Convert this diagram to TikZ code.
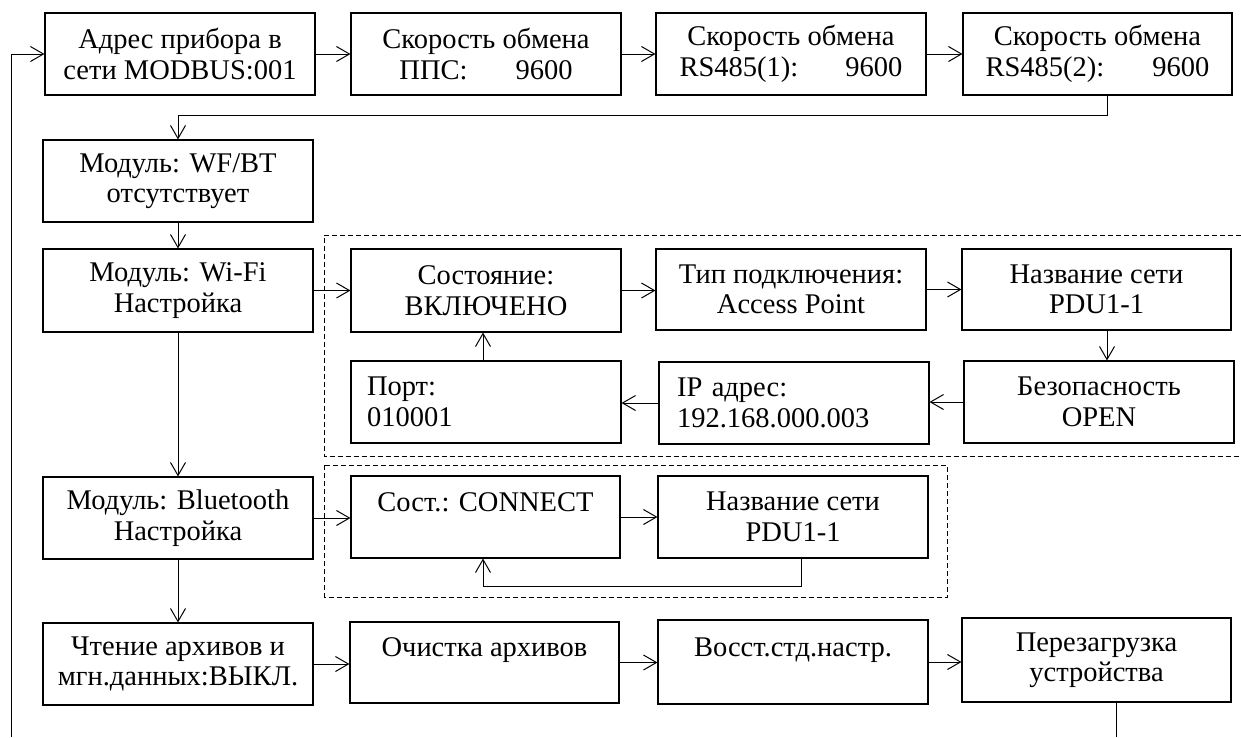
\documentclass[tikz,border=0pt]{standalone}
\usepackage{fontspec}
\setmainfont{Liberation Serif}
\usetikzlibrary{arrows.meta,calc}
\begin{document}
\begin{tikzpicture}[x=1pt,y=-1pt,
 box/.style={draw, line width=1.1pt, inner sep=0pt, align=center, font=\fontsize{28.5}{30.5}\selectfont, minimum width=270pt, minimum height=82pt},
 lbox/.style={box, align=left, text width=238pt},
 arr/.style={line width=1pt, -{Straight Barb[length=13pt,width=15pt]}},
 ln/.style={line width=1pt},
 grp/.style={line width=1pt, dash pattern=on 5pt off 3pt}]
\useasboundingbox (0,0) rectangle (1241,737);
% row 1
\node[box] (b1) at (180,54) {Адрес прибора в\\сети MODBUS:001};
\node[box] (b2) at (486,54) {Скорость обмена\\ППС:\hspace{48pt}9600};
\node[box] (b3) at (791,54) {Скорость обмена\\RS485(1):\hspace{47pt}9600};
\node[box, minimum width=269pt] (b4) at (1097.5,54) {Скорость обмена\\RS485(2):\hspace{48pt}9600};
% row 2
\node[box] (wf) at (178,181) {Модуль: WF/BT\\отсутствует};
% Wi-Fi
\node[box, minimum height=83pt] (wi) at (178,290.5) {Модуль: Wi-Fi\\Настройка};
\node[box, minimum height=83pt] (st) at (486,290.5) {Состояние:\\ВКЛЮЧЕНО};
\node[box, minimum height=81pt] (ty) at (791,289.5) {Тип подключения:\\Access Point};
\node[box, minimum height=81pt, minimum width=269pt] (nm) at (1096.5,289.5) {Название сети\\PDU1-1};
\node[lbox] (pt) at (486,402) {Порт:\\010001};
\node[lbox, text width=234pt] (ip) at (794,403) {IP адрес:\\192.168.000.003};
\node[box] (bz) at (1099,402) {Безопасность\\OPEN};
% Bluetooth
\node[box] (bt) at (178,518) {Модуль: Bluetooth\\Настройка};
\node[box, minimum width=269pt] (so) at (485.5,517) {Сост.: CONNECT\\\mbox{}};
\node[box] (n2) at (793,517) {Название сети\\PDU1-1};
% bottom row
\node[box] (rd) at (178,664) {Чтение архивов и\\мгн.данных:ВЫКЛ.};
\node[box, minimum width=269pt, minimum height=81pt] (cl) at (484.5,662.5) {Очистка архивов\\\mbox{}};
\node[box, minimum height=84pt] (vs) at (793,662) {Восст.стд.настр.\\\mbox{}};
\node[box, minimum width=269pt, minimum height=84pt] (rs) at (1096.5,660) {Перезагрузка\\устройства};
% groups
\draw[grp] (1241,235) -- (324,235) -- (324,456) -- (1241,456);
\draw[grp] (324.5,465) rectangle (947,597);
% connectors
\coordinate (lb) at (11,737);
\draw[arr] (lb) |- (b1.west);
\draw[arr] (b1) -- (b2);
\draw[arr] (b2) -- (b3);
\draw[arr] (b3) -- (b4);
\coordinate (j1) at (1107,115);
\draw[arr] (b4.south -| j1) -- (j1) -| (wf.north);
\draw[arr] (wf) -- (wi);
\draw[arr] (wi.east) -- (wi.east -| st.west);
\draw[arr] (st.east) -- (st.east -| ty.west);
\draw[arr] (ty.east) -- (ty.east -| nm.west);
\draw[arr] ([xshift=10.5pt]nm.south) -- ([xshift=10.5pt]nm.south |- bz.north);
\draw[arr] (bz.west) -- (bz.west -| ip.east);
\draw[arr] (ip.west) -- (ip.west -| pt.east);
\draw[arr] ([xshift=-3pt]pt.north) -- ([xshift=-3pt]pt.north |- st.south);
\draw[arr] (wi) -- (bt);
\draw[arr] (bt.east) -- (bt.east -| so.west);
\draw[arr] (so.east) -- (so.east -| n2.west);
\coordinate (j2) at (801,586);
\coordinate (j3) at (483,586);
\draw[arr] (n2.south -| j2) -- (j2) -- (j3) -- (j3 |- so.south);
\draw[arr] (bt) -- (rd);
\draw[arr] (rd.east) -- (rd.east -| cl.west);
\draw[arr] (cl.east) -- (cl.east -| vs.west);
\draw[arr] (vs.east) -- (vs.east -| rs.west);
\coordinate (j4) at (1116,737);
\draw[ln] (rs.south -| j4) -- (j4);
\end{tikzpicture}
\end{document}
